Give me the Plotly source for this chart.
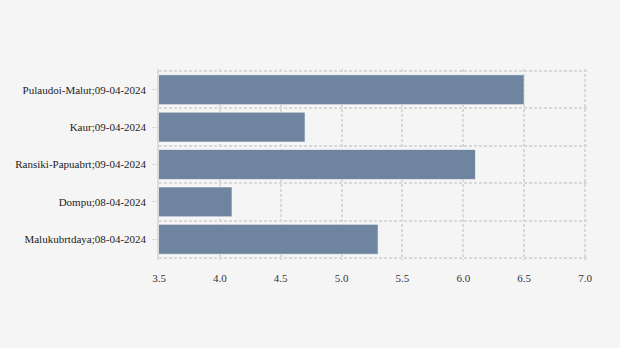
import plotly.graph_objects as go

categories = ["Malukubrtdaya;08-04-2024", "Dompu;08-04-2024", "Ransiki-Papuabrt;09-04-2024",
              "Kaur;09-04-2024", "Pulaudoi-Malut;09-04-2024"]
values = [5.3, 4.1, 6.1, 4.7, 6.5]
x_ticks = [3.5, 4.0, 4.5, 5.0, 5.5, 6.0, 6.5, 7.0]

idx = list(range(len(categories)))
bounds = [i - 0.5 for i in range(len(categories) + 1)]
# pad ranges by ~2px so edge grid lines are drawn
ypad = 2 * len(categories) / 187.0
xpad = 2 * 3.5 / 426.0
yr = [-0.5 - ypad, len(categories) - 0.5 + ypad]

fig = go.Figure()
fig.add_trace(go.Bar(
    x=values, y=idx, orientation="h",
    marker=dict(color="rgb(110,132,159)", line=dict(color="rgba(255,255,255,0.6)", width=1)),
    width=0.8, hoverinfo="x+text", text=categories, textposition="none",
))
fig.add_trace(go.Scatter(x=[None], y=[None], yaxis="y2", showlegend=False))

fig.update_layout(
    width=620, height=348,
    paper_bgcolor="#f5f5f5", plot_bgcolor="#f5f5f5",
    margin=dict(l=159, r=33, t=69, b=88),
    showlegend=False,
    xaxis=dict(range=[3.5, 7.0 + xpad], tickvals=x_ticks, ticktext=[f"{v:.1f}" for v in x_ticks],
               showgrid=True, gridcolor="#d8d8d8", griddash="3px,2px", gridwidth=1.5,
               zeroline=False, showline=False, ticks="", ticklabelstandoff=10,
               tickfont=dict(family="Liberation Serif", size=11, color="#333")),
    yaxis=dict(range=yr, tickvals=idx, ticktext=categories,
               showgrid=False, zeroline=False, showline=True, linecolor="#dcdcdc", linewidth=1.5,
               ticks="outside", ticklen=5, tickcolor="#dcdcdc", ticklabelstandoff=4,
               tickfont=dict(family="Liberation Serif", size=11, color="#222")),
    yaxis2=dict(range=yr, overlaying="y", tickvals=bounds,
                showticklabels=False, showgrid=True, gridcolor="#d8d8d8", griddash="3px,2px",
                gridwidth=1.5, zeroline=False, showline=False, ticks=""),
)

fig.write_html("out.html")
